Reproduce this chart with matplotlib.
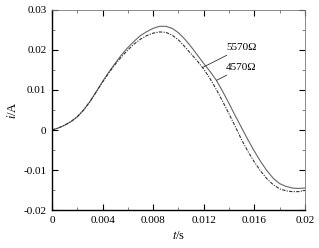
import numpy as np
from matplotlib import pyplot as plt
from matplotlib.ticker import MultipleLocator, FixedFormatter, FixedLocator

# time axis (s)
t = [0.0000, 0.0005, 0.0010, 0.0015, 0.0020, 0.0025, 0.0030, 0.0035, 0.0040, 0.0045,
     0.0050, 0.0055, 0.0060, 0.0065, 0.0070, 0.0075, 0.0080, 0.0085, 0.0090, 0.0095,
     0.0100, 0.0105, 0.0110, 0.0115, 0.0120, 0.0125, 0.0130, 0.0135, 0.0140, 0.0145,
     0.0150, 0.0155, 0.0160, 0.0165, 0.0170, 0.0175, 0.0180, 0.0185, 0.0190, 0.0195,
     0.0200]

# current for R = 4570 ohm (solid)
i_4570 = [0.0000, 0.0005, 0.0012, 0.0021, 0.0033, 0.0050, 0.0071, 0.0096, 0.0121, 0.0145,
          0.0167, 0.0188, 0.0206, 0.0222, 0.0236, 0.0246, 0.0254, 0.0259, 0.0259, 0.0254,
          0.0243, 0.0227, 0.0208, 0.0187, 0.0166, 0.0146, 0.0124, 0.0096, 0.0066, 0.0035,
          0.0005, -0.0025, -0.0053, -0.0079, -0.0102, -0.0121, -0.0134, -0.0141, -0.0145, -0.0146,
          -0.0145]

# current for R = 5570 ohm (dashed)
i_5570 = [0.0000, 0.0005, 0.0012, 0.0021, 0.0033, 0.0050, 0.0071, 0.0095, 0.0120, 0.0143,
          0.0164, 0.0183, 0.0200, 0.0215, 0.0227, 0.0236, 0.0242, 0.0245, 0.0244, 0.0237,
          0.0225, 0.0208, 0.0190, 0.0172, 0.0152, 0.0128, 0.0101, 0.0071, 0.0040, 0.0008,
          -0.0025, -0.0054, -0.0080, -0.0103, -0.0122, -0.0137, -0.0147, -0.0152, -0.0154, -0.0154,
          -0.0151]

xticks = [0, 0.004, 0.008, 0.012, 0.016, 0.02]
xlabels = ['0', '0.004', '0.008', '0.012', '0.016', '0.02']
yticks = [-0.02, -0.01, 0, 0.01, 0.02, 0.03]
ylabels = ['-0.02', '-0.01', '0', '0.01', '0.02', '0.03']

plt.rcParams['font.family'] = ['Liberation Serif', 'DejaVu Serif']
plt.rcParams['mathtext.fontset'] = 'stix'

fig = plt.figure(figsize=(3.19, 2.48), dpi=100)
ax = fig.add_axes([0.163, 0.153, 0.793, 0.807])

ax.plot(t, i_4570, color='#666666', lw=0.8, ls='-')
ax.plot(t, i_5570, color='#333333', lw=0.8, ls=(0, (3, 1.2, 1, 1.2)))

ax.set_xlim(0, 0.02)
ax.set_ylim(-0.02, 0.03)
ax.xaxis.set_major_locator(FixedLocator(xticks))
ax.xaxis.set_major_formatter(FixedFormatter(xlabels))
ax.yaxis.set_major_locator(FixedLocator(yticks))
ax.yaxis.set_major_formatter(FixedFormatter(ylabels))
ax.xaxis.set_minor_locator(MultipleLocator(0.002))
ax.yaxis.set_minor_locator(MultipleLocator(0.005))
ax.tick_params(which='both', direction='in', top=True, right=True, labelsize=8, pad=4)
ax.tick_params(which='major', length=4, width=0.8)
ax.tick_params(which='minor', length=2.5, width=0.6, color='#666666')

for side in ['left', 'bottom']:
    ax.spines[side].set_linewidth(1.0)
    ax.spines[side].set_color('black')
for side in ['top', 'right']:
    ax.spines[side].set_linewidth(0.6)
    ax.spines[side].set_color('#777777')

ax.set_xlabel('$t$/s', fontsize=9, labelpad=4)
ax.set_ylabel('$i$/A', fontsize=9, labelpad=3)

# leader labels, 5570 points at the dashed curve, 4570 at the solid one
ax.annotate('5570Ω', xy=(0.0119, 0.0156), xytext=(0.01375, 0.0205),
            fontsize=8, va='center', ha='left',
            arrowprops=dict(arrowstyle='-', color='#333333', lw=0.6, shrinkA=0, shrinkB=0))
ax.annotate('4570Ω', xy=(0.0130, 0.0124), xytext=(0.01375, 0.0155),
            fontsize=8, va='center', ha='left',
            arrowprops=dict(arrowstyle='-', color='#333333', lw=0.6, shrinkA=0, shrinkB=0))

fig.savefig('out.png', dpi=100)
